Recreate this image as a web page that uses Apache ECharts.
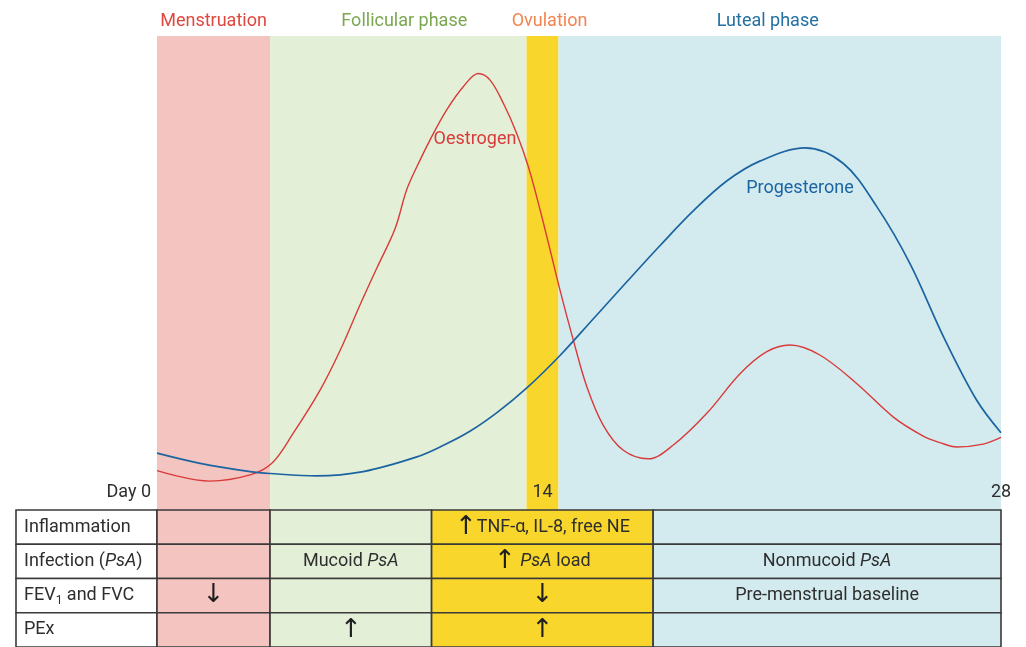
<!DOCTYPE html>
<html>
<head>
<meta charset="utf-8">
<script src="https://cdn.jsdelivr.net/npm/echarts@6/dist/echarts.min.js"></script>
<style>html,body{margin:0;padding:0;background:#fff}#c{width:1026px;height:647px}</style>
</head>
<body>
<div id="c"></div>
<script>
// ---------- DATA ----------
const phaseNames = ['Menstruation', 'Follicular phase', 'Ovulation', 'Luteal phase'];
const phaseStart = [0, 3.75, 12.26, 13.32];
const phaseEnd   = [3.75, 12.26, 13.32, 28];

const dayTickValues = [0, 12.79, 28];
const dayTickLabels = ['Day 0', '14', '28'];

const oestrogenDays = [0, 1.76, 3.09, 3.81, 4.52, 5.41, 6.07, 6.73, 7.29, 7.90, 8.28, 8.62, 9.06, 9.61, 10.16, 10.66, 11.05, 11.49, 11.93, 12.32, 12.71, 13.04, 13.37, 13.81, 14.26, 14.81, 15.47, 16.30, 17.13, 18.24, 19.35, 20.23, 21.00, 21.99, 23.21, 24.43, 25.42, 25.98, 26.53, 27.41, 28];
const oestrogenLevel = [8.3, 6.1, 7.4, 9.85, 16.2, 25.3, 33.6, 43.2, 51.0, 59.4, 67.5, 72.4, 78.1, 84.4, 89.3, 92.1, 90.7, 85.8, 79.5, 72.4, 63.3, 54.9, 46.4, 35.9, 26.0, 17.8, 12.6, 10.8, 13.7, 20.4, 28.8, 33.4, 34.8, 32.7, 26.7, 19.6, 15.6, 14.2, 13.3, 13.9, 15.3];

const progesteroneDays = [0, 1.43, 3.09, 3.75, 5.30, 6.84, 8.62, 9.49, 10.38, 11.31, 12.26, 13.37, 14.47, 15.58, 16.69, 17.79, 18.90, 20.00, 21.50, 22.77, 23.88, 24.98, 26.09, 27.19, 28];
const progesteroneLevel = [12.0, 9.85, 8.1, 7.7, 7.2, 8.1, 11.2, 13.6, 16.6, 20.7, 25.7, 32.6, 40.3, 48.1, 55.8, 63.1, 69.4, 73.6, 76.4, 73.1, 64.0, 52.0, 36.6, 23.2, 16.3];

const curveNames = ['Oestrogen', 'Progesterone'];
const curveLabelDay = [10.55, 21.33];
const curveLabelLevel = [78.1, 67.9];

const rowLabels = ['Inflammation', 'Infection ({i|PsA})', 'FEV{sub|1} and FVC', 'PEx'];
const columnEdges = [0, 3.75, 9.11, 16.46, 28];
const cellTexts = [
  ['', '', '{a|↑}TNF-α, IL-8, free NE', ''],
  ['', 'Mucoid {i|PsA}', '{a|↑} {i|PsA} load', 'Nonmucoid {i|PsA}'],
  ['{a|↓}', '', '{a|↓}', 'Pre-menstrual baseline'],
  ['', '{a|↑}', '{a|↑}', '']
];

// ---------- STYLES ----------
const phaseFill = ['#f4c4c1', '#e3f0d7', '#f8d62b', '#d3ebef'];
const phaseTextColor = ['#e0473f', '#7aa74f', '#f2844f', '#2470a3'];
const phaseLabelShift = [0, 6, 7, -12];
const curveColors = ['#d93a3a', '#1b64a1'];
const tableLeftDay = -141 / 30.143;
const FONT = 'Roboto';
const TXT = '#2e2e2e';

const richBase = {
  i: {fontStyle: 'italic', fontSize: 18, fontFamily: FONT, fill: TXT},
  sub: {fontSize: 12, fontFamily: FONT, fill: TXT, padding: [10, 0, 0, 0]},
  a: {fontSize: 26, fontFamily: 'DejaVu Sans', fill: '#1e1e1e'}
};

// build table cells
const cells = [];
rowLabels.forEach((lab, r) => {
  cells.push({v: [tableLeftDay, 0, r], text: lab, fill: '#ffffff', isLabel: true});
  for (let c = 0; c < 4; c++) {
    cells.push({v: [columnEdges[c], columnEdges[c + 1], r], text: cellTexts[r][c], fill: phaseFill[c], isLabel: false});
  }
});

const chart = echarts.init(document.getElementById('c'));
const option = {
  animation: false,
  backgroundColor: '#ffffff',
  textStyle: {fontFamily: FONT},
  grid: [
    {left: 157, right: 25, top: 36, bottom: 137},
    {left: 16, right: 25, top: 510, height: 142}
  ],
  xAxis: [
    {type: 'value', gridIndex: 0, min: 0, max: 28, show: false},
    {type: 'value', gridIndex: 1, min: tableLeftDay, max: 28, show: false}
  ],
  yAxis: [
    {type: 'value', gridIndex: 0, min: 0, max: 100, show: false},
    {type: 'value', gridIndex: 1, min: 0, max: 4, inverse: true, show: false}
  ],
  series: [
    {
      name: curveNames[0], type: 'line', xAxisIndex: 0, yAxisIndex: 0,
      data: oestrogenDays.map((d, i) => [d, oestrogenLevel[i]]),
      smooth: 0.35, showSymbol: false, z: 5,
      lineStyle: {color: curveColors[0], width: 1.4},
      markArea: {
        silent: true,
        data: phaseNames.map((n, i) => [
          {
            xAxis: phaseStart[i], name: n,
            itemStyle: {color: phaseFill[i], opacity: 1},
            label: {show: true, position: 'top', distance: 6, offset: [phaseLabelShift[i], 0], color: phaseTextColor[i], fontSize: 18, fontFamily: FONT}
          },
          {xAxis: phaseEnd[i]}
        ])
      },
      markPoint: {
        silent: true, symbol: 'circle', symbolSize: 1,
        itemStyle: {color: 'rgba(0,0,0,0)', opacity: 1},
        data: [{coord: [curveLabelDay[0], curveLabelLevel[0]], label: {show: true, position: 'inside', formatter: curveNames[0], color: curveColors[0], fontSize: 18, fontFamily: FONT}}]
      }
    },
    {
      name: curveNames[1], type: 'line', xAxisIndex: 0, yAxisIndex: 0,
      data: progesteroneDays.map((d, i) => [d, progesteroneLevel[i]]),
      smooth: 0.35, showSymbol: false, z: 5,
      lineStyle: {color: curveColors[1], width: 1.7},
      markPoint: {
        silent: true, symbol: 'circle', symbolSize: 1,
        itemStyle: {color: 'rgba(0,0,0,0)', opacity: 1},
        data: [{coord: [curveLabelDay[1], curveLabelLevel[1]], label: {show: true, position: 'inside', formatter: curveNames[1], color: curveColors[1], fontSize: 18, fontFamily: FONT}}]
      }
    },
    {
      // day tick labels
      type: 'scatter', xAxisIndex: 0, yAxisIndex: 0, silent: true, clip: false, z: 6,
      symbolSize: 1, itemStyle: {color: 'rgba(0,0,0,0)', opacity: 1},
      data: dayTickValues.map((d, i) => ({
        value: [d, 0],
        label: i === 0 ? {align: 'right', offset: [-6, 0]} : {}
      })),
      label: {
        show: true, position: 'top', distance: 8, color: TXT, opacity: 1, fontSize: 18, fontFamily: FONT,
        formatter: p => dayTickLabels[p.dataIndex]
      }
    },
    {
      type: 'custom', xAxisIndex: 1, yAxisIndex: 1, silent: true, clip: false,
      data: cells.map(c => c.v),
      renderItem: function (params, api) {
        const x0 = api.value(0), x1 = api.value(1), r = api.value(2);
        const p0 = api.coord([x0, r]);
        const p1 = api.coord([x1, r + 1]);
        const cell = cells[params.dataIndex];
        return {
          type: 'group',
          children: [
            {type: 'rect', shape: {x: p0[0], y: p0[1], width: p1[0] - p0[0], height: p1[1] - p0[1]},
             style: {fill: cell.fill, stroke: '#3a3a3a', lineWidth: 1.6}},
            {type: 'text', x: cell.isLabel ? p0[0] + 8 : (p0[0] + p1[0]) / 2, y: (p0[1] + p1[1]) / 2,
             style: {text: cell.text, align: cell.isLabel ? 'left' : 'center', verticalAlign: 'middle',
                     fontSize: 18, fontFamily: FONT, fill: TXT, rich: richBase}}
          ]
        };
      }
    }
  ]
};
chart.setOption(option);
</script>
</body>
</html>
